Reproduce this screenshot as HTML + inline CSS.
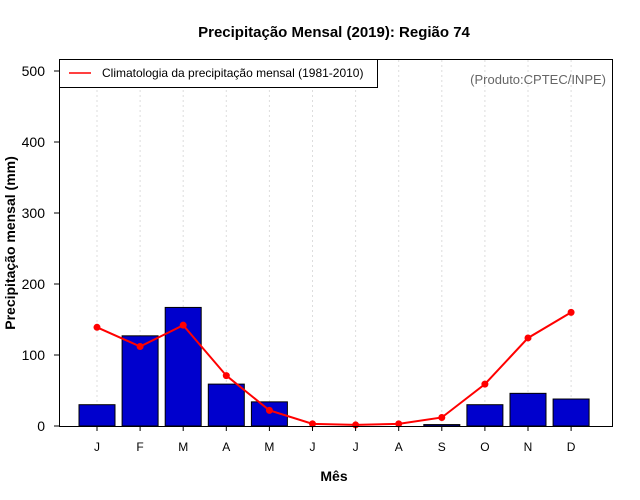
<!DOCTYPE html>
<html><head><meta charset="utf-8"><style>body{margin:0;background:#fff}svg{display:block;font-family:"Liberation Sans",sans-serif}</style></head>
<body>
<svg id="c" width="640" height="500" xmlns="http://www.w3.org/2000/svg">
<text x="334" y="37" text-anchor="middle" font-size="15" font-weight="bold">Precipitação Mensal (2019): Região 74</text>
<g id="grid"></g><g id="bars"></g><g id="line"></g><g id="axes"></g>
<rect x="59.5" y="59.5" width="553" height="367" fill="none" stroke="#000"/>
<g>
<rect x="59.5" y="59.5" width="318" height="28" fill="#fff" stroke="#000"/>
<line x1="69" y1="73" x2="91" y2="73" stroke="#f00" stroke-width="1.5"/>
<text x="102" y="77" font-size="12">Climatologia da precipitação mensal (1981-2010)</text>
</g>
<text x="606" y="84" text-anchor="end" font-size="13" fill="#666">(Produto:CPTEC/INPE)</text>
<text x="334" y="481" text-anchor="middle" font-size="14" font-weight="bold">Mês</text>
<text transform="translate(15,243) rotate(-90)" text-anchor="middle" font-size="14" font-weight="bold">Precipitação mensal (mm)</text>
</svg>
<script>
const months=["J","F","M","A","M","J","J","A","S","O","N","D"];
const observed=[30,127,167,59,34,0,0,0,2,30,46,38];
const climatology=[139,112,142,71,22,3,1.5,3,12,59,124,160];
const yTicks=[0,100,200,300,400,500];
const NS="http://www.w3.org/2000/svg";
const xs=i=>97+i*43.1, ys=v=>426-v*0.71;
function mk(t,a,p){const e=document.createElementNS(NS,t);for(const k in a)e.setAttribute(k,a[k]);p.appendChild(e);return e;}
const G=document.getElementById('grid'),B=document.getElementById('bars'),L=document.getElementById('line'),A=document.getElementById('axes');
months.forEach((m,i)=>{
 const g=mk('line',{x1:xs(i),x2:xs(i),y1:60,y2:426,stroke:'#ddd','stroke-dasharray':'2,3'},G);
 
 
 const t=mk('text',{x:xs(i),y:451,'text-anchor':'middle','font-size':12},A);t.textContent=m;
 
 
 const tk=mk('line',{x1:xs(i),x2:xs(i),y1:426,y2:431,stroke:'#000'},A);
 
 
 const v=observed[i];
 const b=mk('rect',{x:xs(i)-18,y:ys(v),width:36,height:Math.max(426-ys(v),0),fill:'#0000cd',stroke:'#000','stroke-width':1},B);
 
 
});
yTicks.forEach(v=>{
 const tk=mk('line',{x1:54,x2:59,y1:ys(v),y2:ys(v),stroke:'#000'},A);
 
 
 const t=mk('text',{x:45,y:ys(v)+5,'text-anchor':'end','font-size':14},A);t.textContent=v;
 
 
});
const pl=mk('polyline',{points:climatology.map((v,i)=>xs(i)+','+ys(v)).join(' '),fill:'none',stroke:'#f00','stroke-width':2},L);


climatology.forEach((v,i)=>{
 const c=mk('circle',{cx:xs(i),cy:ys(v),r:3.5,fill:'#f00'},L);
 
 
});
</script>
</body></html>
